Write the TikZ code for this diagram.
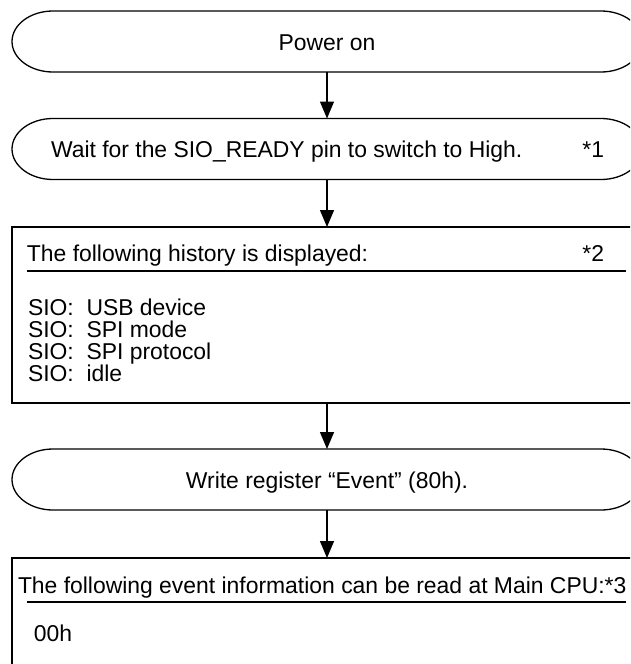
\documentclass[tikz,border=0pt]{standalone}
\usepackage{fontspec}
\setmainfont{Liberation Sans}
\usetikzlibrary{arrows.meta}
\newcommand\terminalshape[1]{%
  \draw[outline] ([xshift=41pt]#1.north west) -- ([xshift=-41pt]#1.north east)
    arc[start angle=90,end angle=-90,x radius=41pt,y radius=30.5pt]
    -- ([xshift=41pt]#1.south west)
    arc[start angle=270,end angle=90,x radius=41pt,y radius=30.5pt] -- cycle;}
\begin{document}
\begin{tikzpicture}[x=1pt,y=-1pt,
  frame/.style={minimum width=630pt,inner sep=0pt,outer sep=0pt},
  termbox/.style={frame,draw=none,minimum height=61pt},
  boxframe/.style={frame,draw,line width=1.4pt},
  txt/.style={font=\fontsize{22.9}{22}\selectfont,inner sep=0pt,outer sep=0pt},
  flow/.style={line width=1.3pt,-{Triangle[length=17pt,width=14pt]}},
  outline/.style={line width=1.3pt},
  rule/.style={line width=1.4pt},
]
\clip (0,0) rectangle (630,664);
\fill[white] (0,0) rectangle (630,664);
% shapes
\node[termbox] (t1) at (327,41.5) {};
\node[termbox] (t2) at (327,149) {};
\node[boxframe,minimum height=176pt] (b3) at (327,315) {};
\node[termbox] (t4) at (327,479.5) {};
\node[boxframe,minimum height=162pt] (b5) at (327,639) {};
\terminalshape{t1}
\terminalshape{t2}
\terminalshape{t4}
% texts
\node[txt,anchor=base] (t1label) at (327,50) {Power on};
\node[txt,anchor=base west] (t2label) at (51,157) {Wait for the SIO\_READY pin to switch to High.};
\node[txt,anchor=base east] (t2note) at (604,157) {*1};
\node[txt,anchor=base west] (b3title) at (27,261) {The following history is displayed:};
\node[txt,anchor=base east] (b3note) at (604,261) {*2};
\draw[rule] (27,271) -- (626,271);
\node[txt,anchor=base west] (b3l1) at (28,315) {SIO:\ \ USB device};
\node[txt,anchor=base west] (b3l2) at (28,337) {SIO:\ \ SPI mode};
\node[txt,anchor=base west] (b3l3) at (28,359) {SIO:\ \ SPI protocol};
\node[txt,anchor=base west] (b3l4) at (28,381) {SIO:\ \ idle};
\node[txt,anchor=base] (t4label) at (327,488) {Write register “Event” (80h).};
\node[txt,anchor=base west] (b5title) at (18,593) {The following event information can be read at Main CPU:*3};
\draw[rule] (27,602) -- (626,602);
\node[txt,anchor=base west] (b5val) at (34,641) {00h};
% connectors
\draw[flow] (t1.south) -- (t2.north);
\draw[flow] (t2.south) -- (b3.north);
\draw[flow] (b3.south) -- (t4.north);
\draw[flow] (t4.south) -- (b5.north);
\end{tikzpicture}
\end{document}
